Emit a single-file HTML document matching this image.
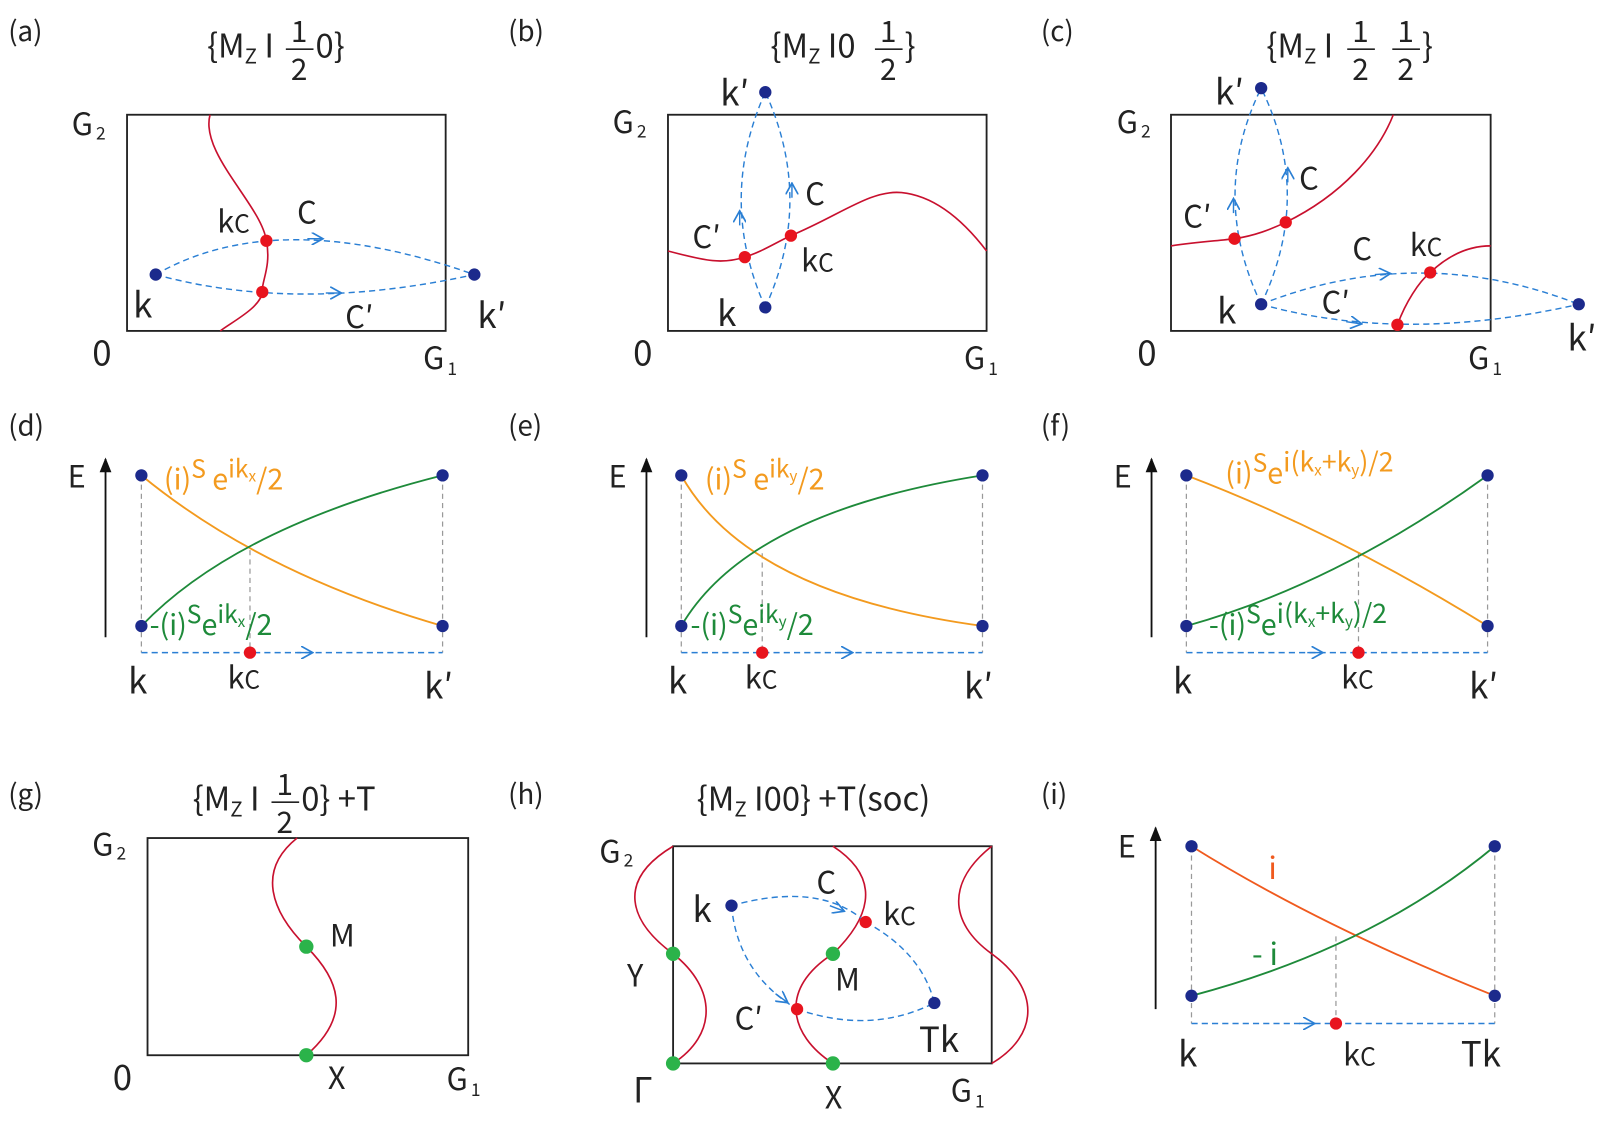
<!DOCTYPE html>
<html><head><meta charset="utf-8"><style>
html,body{margin:0;padding:0;background:#fff}
svg{display:block}
text{font-family:"Noto Sans CJK JP","Liberation Sans",sans-serif;fill:#222}
.lab{font-size:27px}
.big{font-size:34px}
.med{font-size:30px}
.ttl{font-size:32px}
.fr{font-size:29px}
.red{fill:none;stroke:#c8102e;stroke-width:1.6}
.dash{fill:none;stroke:#2a7fd4;stroke-width:1.4;stroke-dasharray:6,4}
.gd{fill:none;stroke:#999;stroke-width:1.2;stroke-dasharray:5,4}
.box{fill:none;stroke:#222;stroke-width:1.8}
.or{fill:none;stroke:#f39a1e;stroke-width:1.8}
.gr{fill:none;stroke:#1e8a3a;stroke-width:1.8}
.oi{fill:none;stroke:#f05a1e;stroke-width:1.8}
</style></head><body>
<svg width="1605" height="1121" viewBox="0 0 1605 1121" xmlns="http://www.w3.org/2000/svg">
<defs>
<marker id="ar" viewBox="0 0 10 10" refX="8" refY="5" markerWidth="9" markerHeight="9" orient="auto"><path d="M0,0 L9,5 L0,10" fill="none" stroke="#2a7fd4" stroke-width="1.3"/></marker>
<marker id="bk" viewBox="0 0 10 10" refX="9" refY="5" markerWidth="8" markerHeight="8" orient="auto"><path d="M0,1 L10,5 L0,9 z" fill="#111"/></marker>
</defs>
<g transform="scale(1.0245)">

<!-- (a) -->
<text x="8" y="40" class="lab">(a)</text>
<text x="202" y="56" class="ttl">{M<tspan font-size="20" dy="6">Z</tspan><tspan dy="-6"> I</tspan></text>
<text x="292" y="41" class="fr" text-anchor="middle">1</text><line x1="279" y1="48" x2="306" y2="48" stroke="#222" stroke-width="1.6"/><text x="292" y="78" class="fr" text-anchor="middle">2</text>
<text x="308" y="56" class="ttl">0}</text>
<rect x="124" y="112" width="311" height="211" class="box"/>
<text x="70" y="132" class="med">G<tspan font-size="17" dx="3" dy="4">2</tspan></text>
<text x="90" y="357" class="big">0</text>
<text x="413" y="360" class="med">G<tspan font-size="17" dx="3" dy="6">1</tspan></text>
<path class="red" d="M205,112 C195,150 255,200 260,235 C265,260 255,275 256,285 C255,300 225,315 215,323"/>
<path class="dash" d="M152,268 Q270,200 463,268"/>
<path class="dash" d="M152,268 Q290,306 463,268"/>
<line x1="300" y1="233" x2="314" y2="233" stroke="#2a7fd4" stroke-width="1.4" marker-end="url(#ar)"/>
<line x1="318" y1="286" x2="332" y2="286" stroke="#2a7fd4" stroke-width="1.4" marker-end="url(#ar)"/>
<circle cx="152" cy="268" r="6" fill="#1c2a8c"/><circle cx="463" cy="268" r="6" fill="#1c2a8c"/>
<circle cx="260" cy="235" r="6" fill="#e8141e"/><circle cx="256" cy="285" r="6" fill="#e8141e"/>
<text x="212" y="227" class="med">k<tspan font-size="24">C</tspan></text>
<text x="290" y="218" class="med">C</text>
<text x="337" y="320" class="med">C′</text>
<text x="130" y="310" class="big">k</text>
<text x="466" y="320" class="big">k′</text>

<!-- (b) -->
<text x="496" y="40" class="lab">(b)</text>
<text x="752" y="56" class="ttl">{M<tspan font-size="20" dy="6">Z</tspan><tspan dy="-6"> I0</tspan></text>
<text x="867" y="41" class="fr" text-anchor="middle">1</text><line x1="854" y1="48" x2="881" y2="48" stroke="#222" stroke-width="1.6"/><text x="867" y="78" class="fr" text-anchor="middle">2</text>
<text x="883" y="56" class="ttl">}</text>
<rect x="652" y="112" width="311" height="211" class="box"/>
<text x="598" y="130" class="med">G<tspan font-size="17" dx="3" dy="4">2</tspan></text>
<text x="618" y="357" class="big">0</text>
<text x="941" y="360" class="med">G<tspan font-size="17" dx="3" dy="6">1</tspan></text>
<path class="red" d="M652,245 C690,255 705,258 727,251 C745,245 755,238 772,230 C820,210 850,185 880,188 C920,192 950,228 963,245"/>
<path class="dash" d="M747,300 Q700,195 747,90"/>
<path class="dash" d="M747,300 Q795,195 747,90"/>
<line x1="722" y1="220" x2="722" y2="207" stroke="#2a7fd4" stroke-width="1.4" marker-end="url(#ar)"/>
<line x1="773" y1="193" x2="773" y2="180" stroke="#2a7fd4" stroke-width="1.4" marker-end="url(#ar)"/>
<circle cx="747" cy="90" r="6" fill="#1c2a8c"/><circle cx="747" cy="300" r="6" fill="#1c2a8c"/>
<circle cx="727" cy="251" r="6" fill="#e8141e"/><circle cx="772" cy="230" r="6" fill="#e8141e"/>
<text x="786" y="200" class="med">C</text>
<text x="676" y="242" class="med">C′</text>
<text x="782" y="265" class="med">k<tspan font-size="24">C</tspan></text>
<text x="700" y="318" class="big">k</text>
<text x="703" y="103" class="big">k′</text>

<!-- (c) -->
<text x="1016" y="40" class="lab">(c)</text>
<text x="1236" y="56" class="ttl">{M<tspan font-size="20" dy="6">Z</tspan><tspan dy="-6"> I</tspan></text>
<text x="1328" y="41" class="fr" text-anchor="middle">1</text><line x1="1315" y1="48" x2="1342" y2="48" stroke="#222" stroke-width="1.6"/><text x="1328" y="78" class="fr" text-anchor="middle">2</text>
<text x="1372" y="41" class="fr" text-anchor="middle">1</text><line x1="1359" y1="48" x2="1386" y2="48" stroke="#222" stroke-width="1.6"/><text x="1372" y="78" class="fr" text-anchor="middle">2</text>
<text x="1388" y="56" class="ttl">}</text>
<rect x="1143" y="112" width="312" height="211" class="box"/>
<text x="1090" y="130" class="med">G<tspan font-size="17" dx="3" dy="4">2</tspan></text>
<text x="1110" y="357" class="big">0</text>
<text x="1433" y="360" class="med">G<tspan font-size="17" dx="3" dy="6">1</tspan></text>
<path class="red" d="M1143,240 C1170,236 1190,235 1205,233 C1225,230 1240,224 1255,217 C1310,190 1345,150 1360,112"/>
<path class="red" d="M1364,317 C1372,295 1385,275 1396,266 C1415,248 1435,240 1455,240"/>
<path class="dash" d="M1231,297 Q1180,190 1231,86"/>
<path class="dash" d="M1231,297 Q1282,190 1231,86"/>
<path class="dash" d="M1231,297 Q1385,236 1541,297"/>
<path class="dash" d="M1231,297 Q1370,336 1541,297"/>
<line x1="1204" y1="208" x2="1204" y2="195" stroke="#2a7fd4" stroke-width="1.4" marker-end="url(#ar)"/>
<line x1="1257" y1="178" x2="1257" y2="165" stroke="#2a7fd4" stroke-width="1.4" marker-end="url(#ar)"/>
<line x1="1342" y1="268" x2="1356" y2="267" stroke="#2a7fd4" stroke-width="1.4" marker-end="url(#ar)"/>
<line x1="1314" y1="314" x2="1328" y2="316" stroke="#2a7fd4" stroke-width="1.4" marker-end="url(#ar)"/>
<circle cx="1231" cy="86" r="6" fill="#1c2a8c"/><circle cx="1231" cy="297" r="6" fill="#1c2a8c"/><circle cx="1541" cy="297" r="6" fill="#1c2a8c"/>
<circle cx="1205" cy="233" r="6" fill="#e8141e"/><circle cx="1255" cy="217" r="6" fill="#e8141e"/><circle cx="1396" cy="266" r="6" fill="#e8141e"/><circle cx="1364" cy="317" r="6" fill="#e8141e"/>
<text x="1268" y="185" class="med">C</text>
<text x="1155" y="222" class="med">C′</text>
<text x="1320" y="254" class="med">C</text>
<text x="1290" y="306" class="med">C′</text>
<text x="1376" y="250" class="med">k<tspan font-size="24">C</tspan></text>
<text x="1188" y="316" class="big">k</text>
<text x="1186" y="102" class="big">k′</text>
<text x="1530" y="342" class="big">k′</text>

<!-- (d) -->
<text x="8" y="425" class="lab">(d)</text>
<line x1="103" y1="622" x2="103" y2="448" stroke="#111" stroke-width="1.8" marker-end="url(#bk)"/>
<text x="66" y="476" class="med">E</text>
<line x1="138" y1="464" x2="138" y2="637" class="gd"/><line x1="244" y1="537" x2="244" y2="637" class="gd"/><line x1="432" y1="464" x2="432" y2="637" class="gd"/>
<path class="or" d="M138,464 Q255,560 432,611"/>
<path class="gr" d="M138,611 Q230,515 432,464"/>
<line x1="138" y1="637" x2="432" y2="637" class="dash"/>
<line x1="290" y1="637" x2="304" y2="637" stroke="#2a7fd4" stroke-width="1.4" marker-end="url(#ar)"/>
<circle cx="138" cy="464" r="6" fill="#1c2a8c"/><circle cx="432" cy="464" r="6" fill="#1c2a8c"/><circle cx="138" cy="611" r="6" fill="#1c2a8c"/><circle cx="432" cy="611" r="6" fill="#1c2a8c"/>
<circle cx="244" cy="637" r="6" fill="#e8141e"/>
<text x="160" y="478" font-size="28" style="fill:#f39a1e">(i)<tspan dy="-12" font-size="24">S</tspan><tspan dy="12"> e</tspan><tspan dy="-12" font-size="24">ik</tspan><tspan font-size="15" dy="4">x</tspan><tspan dy="8">/2</tspan></text>
<text x="146" y="620" font-size="28" style="fill:#1e8a3a">-(i)<tspan dy="-12" font-size="24">S</tspan><tspan dy="12">e</tspan><tspan dy="-12" font-size="24">ik</tspan><tspan font-size="15" dy="4">x</tspan><tspan dy="8">/2</tspan></text>
<text x="125" y="677" class="big">k</text>
<text x="222" y="672" class="med">k<tspan font-size="24">C</tspan></text>
<text x="414" y="682" class="big">k′</text>

<!-- (e) -->
<text x="496" y="425" class="lab">(e)</text>
<line x1="631" y1="622" x2="631" y2="448" stroke="#111" stroke-width="1.8" marker-end="url(#bk)"/>
<text x="594" y="476" class="med">E</text>
<line x1="665" y1="464" x2="665" y2="637" class="gd"/><line x1="744" y1="540" x2="744" y2="637" class="gd"/><line x1="959" y1="464" x2="959" y2="637" class="gd"/>
<path class="or" d="M665,464 Q730,580 959,611"/>
<path class="gr" d="M665,611 Q730,500 959,464"/>
<line x1="665" y1="637" x2="959" y2="637" class="dash"/>
<line x1="817" y1="637" x2="831" y2="637" stroke="#2a7fd4" stroke-width="1.4" marker-end="url(#ar)"/>
<circle cx="665" cy="464" r="6" fill="#1c2a8c"/><circle cx="959" cy="464" r="6" fill="#1c2a8c"/><circle cx="665" cy="611" r="6" fill="#1c2a8c"/><circle cx="959" cy="611" r="6" fill="#1c2a8c"/>
<circle cx="744" cy="637" r="6" fill="#e8141e"/>
<text x="688" y="478" font-size="28" style="fill:#f39a1e">(i)<tspan dy="-12" font-size="24">S</tspan><tspan dy="12"> e</tspan><tspan dy="-12" font-size="24">ik</tspan><tspan font-size="15" dy="4">y</tspan><tspan dy="8">/2</tspan></text>
<text x="674" y="620" font-size="28" style="fill:#1e8a3a">-(i)<tspan dy="-12" font-size="24">S</tspan><tspan dy="12">e</tspan><tspan dy="-12" font-size="24">ik</tspan><tspan font-size="15" dy="4">y</tspan><tspan dy="8">/2</tspan></text>
<text x="652" y="677" class="big">k</text>
<text x="727" y="672" class="med">k<tspan font-size="24">C</tspan></text>
<text x="941" y="682" class="big">k′</text>

<!-- (f) -->
<text x="1016" y="425" class="lab">(f)</text>
<line x1="1124" y1="622" x2="1124" y2="448" stroke="#111" stroke-width="1.8" marker-end="url(#bk)"/>
<text x="1087" y="476" class="med">E</text>
<line x1="1158" y1="464" x2="1158" y2="637" class="gd"/><line x1="1326" y1="540" x2="1326" y2="637" class="gd"/><line x1="1452" y1="464" x2="1452" y2="637" class="gd"/>
<path class="or" d="M1158,464 Q1305,520 1452,611"/>
<path class="gr" d="M1158,611 Q1305,570 1452,464"/>
<line x1="1158" y1="637" x2="1452" y2="637" class="dash"/>
<line x1="1276" y1="637" x2="1290" y2="637" stroke="#2a7fd4" stroke-width="1.4" marker-end="url(#ar)"/>
<circle cx="1158" cy="464" r="6" fill="#1c2a8c"/><circle cx="1452" cy="464" r="6" fill="#1c2a8c"/><circle cx="1158" cy="611" r="6" fill="#1c2a8c"/><circle cx="1452" cy="611" r="6" fill="#1c2a8c"/>
<circle cx="1326" cy="637" r="6" fill="#e8141e"/>
<text x="1196" y="472" font-size="28" style="fill:#f39a1e">(i)<tspan dy="-12" font-size="24">S</tspan><tspan dy="12">e</tspan><tspan dy="-12" font-size="26">i(k</tspan><tspan font-size="15" dy="4">x</tspan><tspan dy="-4" font-size="26">+k</tspan><tspan font-size="15" dy="4">y</tspan><tspan dy="-4" font-size="26">)/2</tspan></text>
<text x="1180" y="620" font-size="28" style="fill:#1e8a3a">-(i)<tspan dy="-12" font-size="24">S</tspan><tspan dy="12">e</tspan><tspan dy="-12" font-size="26">i(k</tspan><tspan font-size="15" dy="4">x</tspan><tspan dy="-4" font-size="26">+k</tspan><tspan font-size="15" dy="4">y</tspan><tspan dy="-4" font-size="26">)/2</tspan></text>
<text x="1145" y="677" class="big">k</text>
<text x="1309" y="672" class="med">k<tspan font-size="24">C</tspan></text>
<text x="1434" y="682" class="big">k′</text>

<!-- (g) -->
<text x="8" y="785" class="lab">(g)</text>
<text x="188" y="791" class="ttl">{M<tspan font-size="20" dy="6">Z</tspan><tspan dy="-6"> I</tspan></text>
<text x="278" y="776" class="fr" text-anchor="middle">1</text><line x1="265" y1="783" x2="292" y2="783" stroke="#222" stroke-width="1.6"/><text x="278" y="813" class="fr" text-anchor="middle">2</text>
<text x="294" y="791" class="ttl">0}  +T</text>
<rect x="144" y="818" width="313" height="212" class="box"/>
<text x="90" y="835" class="med">G<tspan font-size="17" dx="3" dy="4">2</tspan></text>
<text x="110" y="1064" class="big">0</text>
<text x="436" y="1064" class="med">G<tspan font-size="17" dx="3" dy="6">1</tspan></text>
<path class="red" d="M290,818 C250,850 265,890 299,924 C330,955 345,990 299,1030"/>
<circle cx="299" cy="924" r="7" fill="#2bb34a"/><circle cx="299" cy="1030" r="7" fill="#2bb34a"/>
<text x="322" y="924" class="med">M</text>
<text x="320" y="1063" class="med">X</text>

<!-- (h) -->
<text x="496" y="785" class="lab">(h)</text>
<text x="680" y="791" class="ttl">{M<tspan font-size="20" dy="6">Z</tspan><tspan dy="-6"> I00}  +T(soc)</tspan></text>
<rect x="657" y="826" width="311" height="212" class="box"/>
<text x="585" y="842" class="med">G<tspan font-size="17" dx="3" dy="4">2</tspan></text>
<text x="618" y="1076" class="big">Γ</text>
<text x="928" y="1075" class="med">G<tspan font-size="17" dx="3" dy="6">1</tspan></text>
<path class="red" d="M657,826 C600,860 615,900 657,931 C700,965 700,1010 657,1038"/>
<path class="red" d="M813,826 C865,860 845,900 813,931 C760,965 770,1010 813,1038"/>
<path class="red" d="M968,826 C925,860 925,900 968,931 C1015,965 1015,1010 968,1038"/>
<path class="dash" d="M714,884 Q800,860 845,900"/>
<path class="dash" d="M714,884 Q720,950 778,985"/>
<path class="dash" d="M845,900 Q900,930 912,979"/>
<path class="dash" d="M778,985 Q850,1010 912,979"/>
<line x1="810" y1="884" x2="823" y2="889" stroke="#2a7fd4" stroke-width="1.4" marker-end="url(#ar)"/>
<line x1="757" y1="970" x2="768" y2="978" stroke="#2a7fd4" stroke-width="1.4" marker-end="url(#ar)"/>
<circle cx="714" cy="884" r="6" fill="#1c2a8c"/><circle cx="912" cy="979" r="6" fill="#1c2a8c"/>
<circle cx="845" cy="900" r="6" fill="#e8141e"/><circle cx="778" cy="985" r="6" fill="#e8141e"/>
<circle cx="657" cy="931" r="7" fill="#2bb34a"/><circle cx="657" cy="1038" r="7" fill="#2bb34a"/><circle cx="813" cy="931" r="7" fill="#2bb34a"/><circle cx="813" cy="1038" r="7" fill="#2bb34a"/>
<text x="676" y="900" class="big">k</text>
<text x="797" y="872" class="med">C</text>
<text x="862" y="903" class="med">k<tspan font-size="24">C</tspan></text>
<text x="815" y="967" class="med">M</text>
<text x="717" y="1005" class="med">C′</text>
<text x="897" y="1027" class="big">Tk</text>
<text x="612" y="963" class="med">Y</text>
<text x="805" y="1082" class="med">X</text>

<!-- (i) -->
<text x="1016" y="785" class="lab">(i)</text>
<line x1="1128" y1="985" x2="1128" y2="808" stroke="#111" stroke-width="1.8" marker-end="url(#bk)"/>
<text x="1091" y="837" class="med">E</text>
<line x1="1163" y1="826" x2="1163" y2="999" class="gd"/><line x1="1304" y1="914" x2="1304" y2="999" class="gd"/><line x1="1459" y1="826" x2="1459" y2="999" class="gd"/>
<path class="oi" d="M1163,826 Q1290,905 1459,972"/>
<path class="gr" d="M1163,972 Q1340,925 1459,826"/>
<line x1="1163" y1="999" x2="1459" y2="999" class="dash"/>
<line x1="1268" y1="999" x2="1282" y2="999" stroke="#2a7fd4" stroke-width="1.4" marker-end="url(#ar)"/>
<circle cx="1163" cy="826" r="6" fill="#1c2a8c"/><circle cx="1459" cy="826" r="6" fill="#1c2a8c"/><circle cx="1163" cy="972" r="6" fill="#1c2a8c"/><circle cx="1459" cy="972" r="6" fill="#1c2a8c"/>
<circle cx="1304" cy="999" r="6" fill="#e8141e"/>
<text x="1238" y="858" font-size="30" style="fill:#f05a1e">i</text>
<text x="1222" y="942" font-size="30" style="fill:#1e8a3a">- i</text>
<text x="1150" y="1041" class="big">k</text>
<text x="1311" y="1040" class="med">k<tspan font-size="24">C</tspan></text>
<text x="1426" y="1041" class="big">Tk</text>
</g>
</svg>
</body></html>
